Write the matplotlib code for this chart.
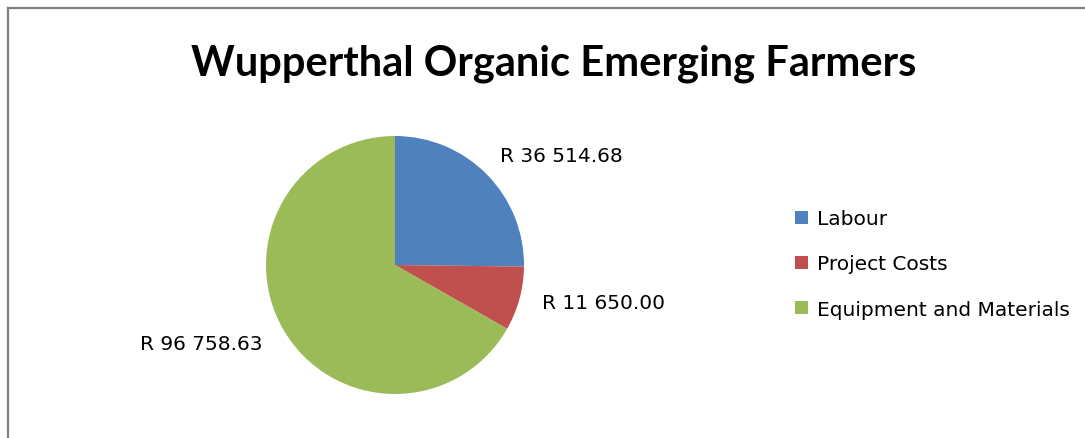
import numpy as np
import matplotlib.pyplot as plt
from matplotlib.patches import Patch
from matplotlib.lines import Line2D

# cost breakdown
categories = ['Labour', 'Project Costs', 'Equipment and Materials']
values = [36514.68, 11650.00, 96758.63]
colors = ['#4F81BD', '#C0504D', '#9BBB59']
title = 'Wupperthal Organic Emerging Farmers'

plt.rcParams['font.family'] = ['DejaVu Sans']

W, H = 1085, 439
fig = plt.figure(figsize=(W / 100, H / 100), dpi=100)

# pie axes: centre (395, 266) px, radius 129 px
cx, cy, r = 395, 266, 129
ax = fig.add_axes([(cx - r) / W, (H - cy - r) / H, 2 * r / W, 2 * r / H])
wedges, _ = ax.pie(values, colors=colors, startangle=90, counterclock=False,
                   radius=1, wedgeprops=dict(linewidth=0))
ax.set_xlim(-1, 1)
ax.set_ylim(-1, 1)
ax.set_aspect('equal')
ax.axis('off')

def fmt(v):
    s = f'{v:,.2f}'.replace(',', ' ')
    return 'R ' + s

label_pos = [(1.29, 0.845), (1.62, -0.29), (-1.50, -0.61)]
for v, (lx, ly) in zip(values, label_pos):
    ax.text(lx, ly, fmt(v), ha='center', va='center', fontsize=14.5,
            color='#000000', clip_on=False)

fig.text(554 / W, 1 - 64 / H, title, ha='center', va='center',
         fontsize=30, fontweight='bold', family=['Lato', 'DejaVu Sans'])

handles = [Patch(facecolor=c, edgecolor='none') for c in colors]
fig.legend(handles, categories, loc='center left',
           bbox_to_anchor=(777 / W, 1 - 265 / H), frameon=False,
           fontsize=14.5, handlelength=0.65, handleheight=0.65,
           handletextpad=0.45, labelspacing=1.3)

# chart border (top and left visible)
fig.add_artist(Line2D([8 / W, 1], [1 - 9 / H, 1 - 9 / H], color='#808080', lw=1.6))
fig.add_artist(Line2D([8 / W, 8 / W], [0, 1 - 9 / H], color='#808080', lw=1.6))

fig.savefig('out.png', dpi=100, facecolor='white')
